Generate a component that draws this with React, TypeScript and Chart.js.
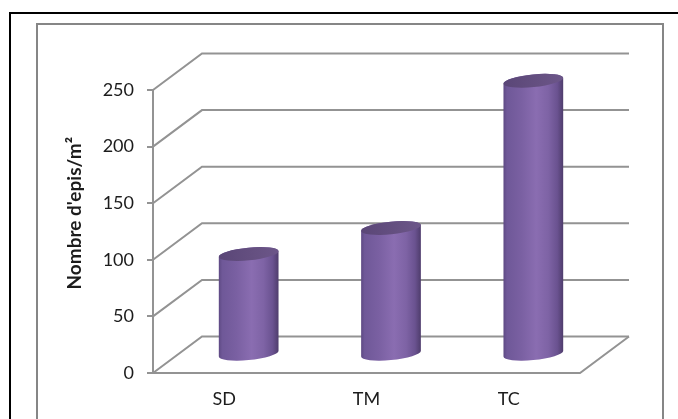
import { useEffect, useRef } from "react";
import { Chart, registerables } from "chart.js";

Chart.register(...registerables);

// Data
const categories = ["SD", "TM", "TC"];
const epis = [89, 112, 242];
const yMin = 0;
const yMax = 250;
const yStep = 50;
const yTitle = "Nombre d'epis/m²";

// Oblique depth of the 3D box (pixels)
const DEPTH_X = 49;
const DEPTH_Y = -36.5;

const GRID = "#939393";
const TEXT = "#1c1c1c";
const FONT = "Lato, 'Open Sans', sans-serif";

function drawCylinder(
  ctx: CanvasRenderingContext2D,
  cx: number,
  topY: number,
  baseY: number,
  rx: number
) {
  const ry = 6.3;
  const rot = -0.1;
  const t0 = Math.atan((-ry * Math.tan(rot)) / rx);

  // body
  const g = ctx.createLinearGradient(cx - rx, 0, cx + rx, 0);
  g.addColorStop(0, "#5d4983");
  g.addColorStop(0.06, "#6f5898");
  g.addColorStop(0.3, "#7a60a2");
  g.addColorStop(0.55, "#8a6db1");
  g.addColorStop(0.75, "#7e63a5");
  g.addColorStop(0.9, "#6a5290");
  g.addColorStop(1, "#4e3c6b");
  ctx.beginPath();
  ctx.ellipse(cx, baseY, rx, ry, rot, t0, t0 + Math.PI, false);
  ctx.ellipse(cx, topY, rx, ry, rot, t0 + Math.PI, t0 + 2 * Math.PI, false);
  ctx.closePath();
  ctx.fillStyle = g;
  ctx.fill();

  // top cap
  const gt = ctx.createLinearGradient(cx - rx, 0, cx + rx, 0);
  gt.addColorStop(0, "#5a4677");
  gt.addColorStop(0.6, "#655081");
  gt.addColorStop(1, "#6c5689");
  ctx.beginPath();
  ctx.ellipse(cx, topY, rx, ry, rot, 0, 2 * Math.PI);
  ctx.fillStyle = gt;
  ctx.fill();
}

const box3d = {
  id: "box3d",
  beforeDatasetsDraw(chart: any) {
    const { ctx, chartArea: a, scales } = chart;
    const y = scales.y;
    ctx.save();
    ctx.strokeStyle = GRID;
    ctx.lineWidth = 2;
    // side wall + back wall gridlines
    for (const t of y.ticks) {
      const py = y.getPixelForValue(t.value);
      ctx.beginPath();
      ctx.moveTo(a.left, py);
      ctx.lineTo(a.left + DEPTH_X, py + DEPTH_Y);
      ctx.lineTo(a.right + DEPTH_X, py + DEPTH_Y);
      ctx.stroke();
    }
    // floor edges
    const p0 = y.getPixelForValue(yMin);
    ctx.beginPath();
    ctx.moveTo(a.left, p0);
    ctx.lineTo(a.right, p0);
    ctx.lineTo(a.right + DEPTH_X, p0 + DEPTH_Y);
    ctx.stroke();
    ctx.restore();
  },
  afterDatasetsDraw(chart: any) {
    const { ctx } = chart;
    const meta = chart.getDatasetMeta(0);
    ctx.save();
    meta.data.forEach((bar: any) => {
      const { x, y, base, width } = bar.getProps(["x", "y", "base", "width"], true);
      drawCylinder(ctx, x + DEPTH_X / 2, y + DEPTH_Y / 2, base + DEPTH_Y / 2, width / 2);
    });
    ctx.restore();
  },
  afterDraw(chart: any) {
    const { ctx, chartArea: a } = chart;
    ctx.save();
    ctx.translate(81, (a.top + DEPTH_Y + a.bottom) / 2);
    ctx.rotate(-Math.PI / 2);
    ctx.font = `bold 19px ${FONT}`;
    ctx.fillStyle = TEXT;
    ctx.textAlign = "center";
    ctx.textBaseline = "alphabetic";
    ctx.fillText(yTitle, 0, 0);
    ctx.restore();
  },
};

export default function App() {
  const ref = useRef<HTMLCanvasElement | null>(null);

  useEffect(() => {
    if (!ref.current) return;
    const chart = new Chart(ref.current, {
      type: "bar",
      data: {
        labels: categories,
        datasets: [
          {
            data: epis,
            backgroundColor: "rgba(0,0,0,0)",
            borderWidth: 0,
            barPercentage: 0.4216,
            categoryPercentage: 1,
          },
        ],
      },
      options: {
        animation: false,
        responsive: false,
        layout: { padding: { left: 60, top: 90, right: 98, bottom: 0 } },
        plugins: {
          legend: { display: false },
          tooltip: { enabled: false },
        },
        scales: {
          x: {
            grid: { display: false, drawTicks: false },
            border: { display: false },
            ticks: { color: TEXT, font: { family: FONT, size: 18 }, padding: 15 },
            afterFit(scale: any) {
              scale.height = 46;
            },
          },
          y: {
            min: yMin,
            max: yMax,
            ticks: {
              stepSize: yStep,
              color: TEXT,
              font: { family: FONT, size: 18 },
              padding: 13,
            },
            grid: {
              drawOnChartArea: false,
              drawTicks: true,
              tickLength: 6,
              color: GRID,
              lineWidth: 2,
            },
            border: { display: true, color: GRID, width: 2 },
            afterFit(scale: any) {
              scale.width = 93;
            },
          },
        },
      },
      plugins: [box3d],
    });
    return () => chart.destroy();
  }, []);

  return (
    <div
      style={{
        position: "fixed",
        left: 0,
        top: 0,
        width: 678,
        height: 419,
        background: "#fff",
        overflow: "hidden",
      }}
    >
      <div
        style={{
          position: "absolute",
          left: 9,
          top: 12,
          width: 720,
          height: 500,
          border: "2px solid #000",
        }}
      />
      <div
        style={{
          position: "absolute",
          left: 36,
          top: 23,
          width: 624,
          height: 500,
          border: "2px solid #868686",
        }}
      />
      <canvas
        ref={ref}
        width={678}
        height={419}
        style={{ position: "absolute", left: 0, top: 0 }}
      />
    </div>
  );
}
